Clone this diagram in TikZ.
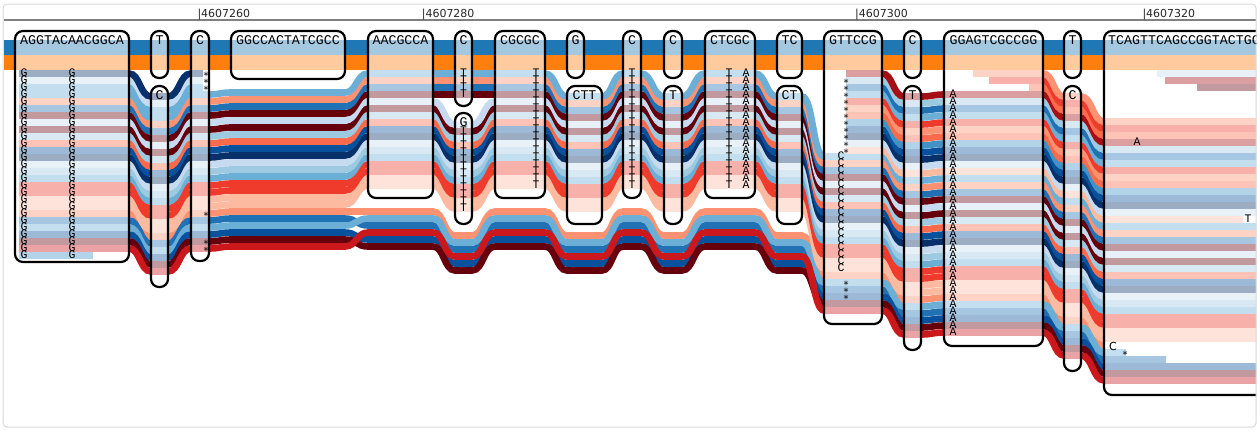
\documentclass[tikz,border=0pt]{standalone}
\usepackage{fontspec}
\newfontfamily\monof{Liberation Mono}
\newfontfamily\dvf{DejaVu Sans}
\definecolor{refblue}{HTML}{1F77B4}
\definecolor{reforange}{HTML}{FF7F0E}
\definecolor{b7}{HTML}{DEEBF7}
\definecolor{b6}{HTML}{C6DBEF}
\definecolor{b5}{HTML}{9ECAE1}
\definecolor{b4}{HTML}{6BAED6}
\definecolor{b3}{HTML}{4292C6}
\definecolor{b2}{HTML}{2171B5}
\definecolor{b1}{HTML}{08519C}
\definecolor{db}{HTML}{08306B}
\definecolor{r7}{HTML}{FEE0D2}
\definecolor{r6}{HTML}{FCBBA1}
\definecolor{r5}{HTML}{FC9272}
\definecolor{r4}{HTML}{FB6A4A}
\definecolor{r3}{HTML}{EF3B2C}
\definecolor{r2}{HTML}{CB181D}
\definecolor{r1}{HTML}{A50F15}
\definecolor{dr}{HTML}{67000D}
\definecolor{rulergray}{HTML}{808080}
\definecolor{framegray}{HTML}{DADADA}
\tikzset{
  rd/.style={line width=6.6pt},
  nodebox/.style={draw=black, line width=2.2pt, fill=white, fill opacity=0.6, rounded corners=8pt},
  lbl/.style={font=\monof\fontsize{13.3}{14}\selectfont, anchor=base, inner sep=0pt},
  lblw/.style={font=\monof\fontsize{13.3}{14}\selectfont, anchor=base west, inner sep=0pt},
  mm/.style={font=\monof\fontsize{11.5}{11.5}\selectfont, anchor=base, inner sep=0pt, text height=5pt, text depth=0pt},
  star/.style={font=\dvf\fontsize{10}{10}\selectfont, anchor=base, inner sep=0pt, text height=5pt, text depth=0pt},
  rulertext/.style={font=\dvf\fontsize{11}{12}\selectfont, anchor=base west, inner sep=0pt, text=black!85},
}
% one read: #1 colour, #2 list xin/xout/ytop
\newcommand\rdline[2]{%
  \gdef\rpath{}\gdef\rfirst{1}%
  \foreach \rxa/\rxb/\ryy in {#2}{%
    \pgfmathsetmacro\yc{\ryy+3.5}%
    \ifnum\rfirst=1\relax
      \xdef\rpath{(\rxa,\yc) -- (\rxb,\yc)}%
      \gdef\rfirst{0}%
    \else
      \pgfmathsetmacro\mx{(\pxo+\rxa)/2}%
      \xdef\rpath{\rpath\space .. controls (\mx,\pyc) and (\mx,\yc) .. (\rxa,\yc) -- (\rxb,\yc)}%
    \fi
    \xdef\pxo{\rxb}\xdef\pyc{\yc}%
  }%
  \draw[rd,draw=#1] \rpath;%
}
% upper bundle read: #1 index, #2 colour
\newcommand\Uread[2]{\rdline{#2}{19/129/91+7*#1, 151/168/114+7*#1, 191/209/91+7*#1, 231/345/89+7*#1, 368/433/70+7*#1, 455/472/70+7*#1+23*(#1>3), 495/545/70+7*#1, 567/602/93+7*#1, 623/641/70+7*#1, 664/682/93+7*#1, 705/755/70+7*#1, 777/802/93+7*#1, 824/882/153+7*#1, 904/921/177+7*#1, 944/1043/175+7*#1, 1064/1081/198+7*#1, 1104/1260/223+7*#1}}
% lower bundle read: slots #1 #2 #3, colour #4, end #5
\newcommand\Lread[5]{\rdline{#4}{19/129/210+7*#1, 151/168/233+7*#1, 191/209/210+7*#1, 231/345/208+7*#1, 368/433/208+7*#2, 455/472/232+7*#2, 495/545/208+7*#2, 567/602/232+7*#2, 623/641/208+7*#2, 664/682/232+7*#2, 705/755/208+7*#2, 777/802/232+7*#2, 824/882/272+7*#3, 904/921/296+7*#3, 944/1043/294+7*#3, 1064/1081/317+7*#3, 1104/#5/342+7*#3}}
% reads starting in GTTCCG: #1 index, #2 colour, #3 end
\newcommand\Nread[3]{\rdline{#2}{846/882/70+7*#1, 904/921/93+7*#1, 944/1043/91+7*#1, 1064/1081/114+7*#1, 1104/#3/139+7*#1}}
% column of letters: #1 x, #2 char, #3 first centre, #4 indices, #5 baseline offset, #6 style
\newcommand\mmcol[6]{\foreach \mmi in {#4}{\node[#6] at (#1,{#3+7*\mmi+#5}) {#2};}}
\begin{document}
\begin{tikzpicture}[x=1pt,y=-1pt]
\useasboundingbox (0,0) rectangle (1260,432);
\fill[white] (0,0) rectangle (1260,432);
\begin{scope}
\clip[rounded corners=4pt] (3,4) rectangle (1256,427);
% reference path
\fill[refblue] (4,40) rectangle (1256,55);
\fill[reforange] (4,55) rectangle (1256,70);
% lower bundle
\Lread{0}{0}{0}{r5}{1104}
\Lread{1}{2}{2}{b2}{1166}
\Lread{2}{1}{1}{b4}{1126}
\Lread{3}{4}{3}{b1}{1260}
\Lread{4}{5}{4}{dr}{1260}
\Lread{5}{3}{5}{r2}{1260}
% upper bundle
\Uread{16}{r6}
\Uread{15}{r6}
\Uread{14}{r3}
\Uread{13}{r3}
\Uread{12}{b4}
\Uread{11}{b5}
\Uread{10}{b6}
\Uread{9}{db}
\Uread{8}{b1}
\Uread{7}{r4}
\Uread{6}{b5}
\Uread{5}{dr}
\Uread{4}{b6}
\Uread{3}{dr}
\Uread{2}{b2}
\Uread{1}{r5}
\Uread{0}{b4}
% reads ending in the third node
\rdline{b4}{19/129/84, 151/168/107, 191/203/84}
\rdline{b6}{19/129/77, 151/168/100, 191/203/77}
\rdline{db}{19/129/70, 151/168/93, 191/203/70}
\rdline{b3}{19/93/252}
% reads starting in GTTCCG
\Nread{11}{r6}{1243}
\Nread{10}{b6}{1260}
\Nread{9}{db}{1260}
\Nread{8}{b1}{1260}
\Nread{7}{b3}{1260}
\Nread{6}{r4}{1260}
\Nread{5}{r5}{1260}
\Nread{4}{r3}{1260}
\Nread{3}{b4}{1260}
\Nread{2}{b2}{1260}
\Nread{1}{b5}{1260}
\Nread{0}{r1}{1260}
% reads starting in GGAGTCGCCGG
\rdline{r4}{1029/1043/84, 1064/1081/107, 1104/1260/132}
\rdline{r3}{989/1043/77, 1064/1081/100, 1104/1260/125}
\rdline{r5}{973/1043/70, 1064/1081/93, 1104/1260/118}
% reads starting in the last node
\rdline{b6}{1157/1260/70}
\rdline{r1}{1165/1260/77}
\rdline{dr}{1197/1260/84}
% nodes
\foreach \xa/\ya/\xb/\yb in {15/31/129/262, 151/31/168/78, 151/86/168/287, 191/31/209/261, 231/31/345/79, 368/31/433/198, 455/31/472/106, 455/113/472/224, 495/31/545/198, 567/31/584/78, 567/86/602/224, 623/31/641/198, 664/31/682/78, 664/86/682/224, 705/31/755/198, 777/31/802/78, 777/86/802/224, 824/31/882/324, 904/31/921/78, 904/86/921/350, 944/31/1043/346, 1064/31/1081/78, 1064/86/1081/371, 1104/31/1274/395}
  \draw[nodebox] (\xa,\ya) rectangle (\xb,\yb);
% node labels
\foreach \cx/\ty/\txt [count=\n] in {72/31/AGGTACAACGGCA, 159.5/31/T, 159.5/86/C, 200/31/C, 288/31/GGCCACTATCGCC, 400.5/31/AACGCCA, 463.5/31/C, 463.5/113/G, 520/31/CGCGC, 575.5/31/G, 584.5/86/CTT, 632/31/C, 673/31/C, 673/86/T, 730/31/CTCGC, 789.5/31/TC, 789.5/86/CT, 853/31/GTTCCG, 912.5/31/C, 912.5/86/T, 993.5/31/GGAGTCGCCGG, 1072.5/31/T, 1072.5/86/C}
  \node[lbl] (lab\n) at (\cx,{\ty+13.5}) {\txt};
\node[lblw] (lab24) at (1108,44.5) {TCAGTTCAGCCGGTACTGCC};
% mismatch letters
\mmcol{24}{G}{73.5}{0,...,26}{3.3}{mm}
\mmcol{72}{G}{73.5}{0,...,26}{3.3}{mm}
\mmcol{206}{*}{73.5}{0,1,2}{5.5}{star}
\mmcol{206}{*}{213.5}{0,4,5}{5.5}{star}
\mmcol{463.5}{T}{73.5}{0,...,3}{3.3}{mm}
\mmcol{463.5}{T}{96.5}{5,...,16}{3.3}{mm}
\mmcol{536}{T}{73.5}{0,...,16}{3.3}{mm}
\mmcol{632}{T}{73.5}{0,...,16}{3.3}{mm}
\mmcol{729}{T}{73.5}{0,...,16}{3.3}{mm}
\mmcol{746}{A}{73.5}{0,...,16}{3.3}{mm}
\mmcol{841}{C}{156.5}{0,...,16}{3.3}{mm}
\mmcol{846}{*}{73.5}{1,...,11}{5.5}{star}
\mmcol{846}{*}{275.5}{1,2,3}{5.5}{star}
\mmcol{953}{A}{94.5}{0,...,34}{3.3}{mm}
\node[mm] (mA) at (1137,145.8) {A};
\node[mm] (mT) at (1248,222.8) {T};
\node[font=\dvf\fontsize{11}{11}\selectfont, anchor=base, inner sep=0pt] (mC) at (1113,350) {C};
\node[star] (mS) at (1125,358) {*};
\end{scope}
% ruler
\draw[rulergray, line width=2pt] (4,20) -- (1256,20);
\node[rulertext] (p1) at (197.3,17.3) {|4607260};
\node[rulertext] (p2) at (421.6,17.3) {|4607280};
\node[rulertext] (p3) at (855,17.3) {|4607300};
\node[rulertext] (p4) at (1142.3,17.3) {|4607320};
% frame
\draw[framegray, line width=1pt, rounded corners=4pt] (3,4) rectangle (1256,427);
\end{tikzpicture}
\end{document}
